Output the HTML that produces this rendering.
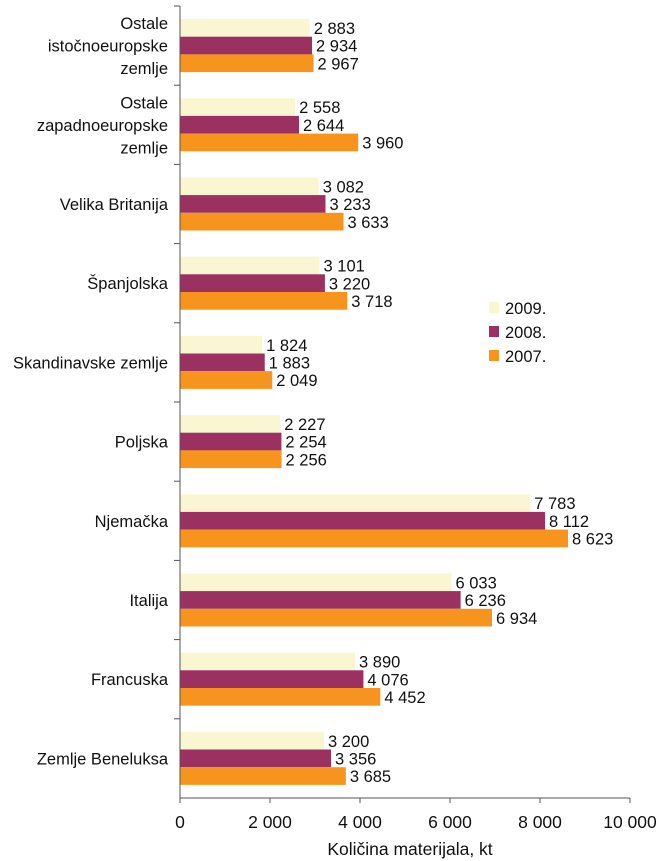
<!DOCTYPE html>
<html><head><meta charset="utf-8"><style>
body{margin:0;background:#fff;}
svg{display:block;font-family:"Liberation Sans",Arial,sans-serif;}
</style></head><body>
<svg id="chart" width="668" height="861"></svg>
<script>
const categories=["Ostale|istočnoeuropske|zemlje","Ostale|zapadnoeuropske|zemlje","Velika Britanija","Španjolska","Skandinavske zemlje","Poljska","Njemačka","Italija","Francuska","Zemlje Beneluksa"];
const series2009=[2883,2558,3082,3101,1824,2227,7783,6033,3890,3200];
const series2008=[2934,2644,3233,3220,1883,2254,8112,6236,4076,3356];
const series2007=[2967,3960,3633,3718,2049,2256,8623,6934,4452,3685];
const tickValues=[0,2000,4000,6000,8000,10000];
const seriesNames=["2009.","2008.","2007."];
const colors=["#FBF6D2","#9B3160","#F7941D"];
const NS="http://www.w3.org/2000/svg";
const svg=document.getElementById("chart");
const x0=180,x1=630,yTop=6,yBottom=798,gh=(yBottom-yTop)/categories.length;
const xs=v=>x0+(v/10000)*(x1-x0);
const fmt=v=>{const s=String(v);return s.length>3?s.slice(0,-3)+" "+s.slice(-3):s;};
function mk(t,a,txt){const e=document.createElementNS(NS,t);for(const k in a)e.setAttribute(k,a[k]);if(txt!==undefined)e.textContent=txt;svg.appendChild(e);return e;}
const all=[series2009,series2008,series2007];
categories.forEach((c,i)=>{
  const gy=yTop+i*gh;
  all.forEach((s,j)=>{
    const y=gy+13+j*17.7;
    const r=mk("rect",{x:x0,y:y,width:xs(s[i])-x0,height:17.7,fill:colors[j]});
    
    
    const t=mk("text",{x:xs(s[i])+4,y:y+15,"font-size":"16.5",fill:"#111"},fmt(s[i]));
    
    
  });
  const lines=c.split("|");
  const cy=gy+gh/2-((lines.length-1)*22.5)/2+6;
  const t=mk("text",{x:168,y:cy,"text-anchor":"end","font-size":"16.5",fill:"#111"});
  
  
  lines.forEach((l,k)=>{const ts=document.createElementNS(NS,"tspan");ts.setAttribute("x",168);ts.setAttribute("y",cy+k*22.5);ts.textContent=l;t.appendChild(ts);});
  const tk=mk("line",{x1:174,x2:180,y1:gy,y2:gy,stroke:"#555"});
  
  
});
const ya=mk("line",{x1:x0,x2:x0,y1:yTop,y2:yBottom,stroke:"#555"});


const xa=mk("line",{x1:x0,x2:x1,y1:yBottom,y2:yBottom,stroke:"#555"});


tickValues.forEach(v=>{
  const l=mk("line",{x1:xs(v),x2:xs(v),y1:yBottom,y2:yBottom+5,stroke:"#555"});
  
  
  const t=mk("text",{x:xs(v),y:yBottom+30,"text-anchor":"middle","font-size":"17.5",fill:"#111"},fmt(v));
  
  
});
const at=mk("text",{x:410,y:855,"text-anchor":"middle","font-size":"17.5",fill:"#111"},"Količina materijala, kt");


seriesNames.forEach((n,j)=>{
  const y=302+j*24;
  const r=mk("rect",{x:489,y:y,width:10,height:11,fill:colors[j]});
  
  
  const t=mk("text",{x:505,y:y+12,"font-size":"16.5",fill:"#111"},n);
  
  
});
</script>
</body></html>
